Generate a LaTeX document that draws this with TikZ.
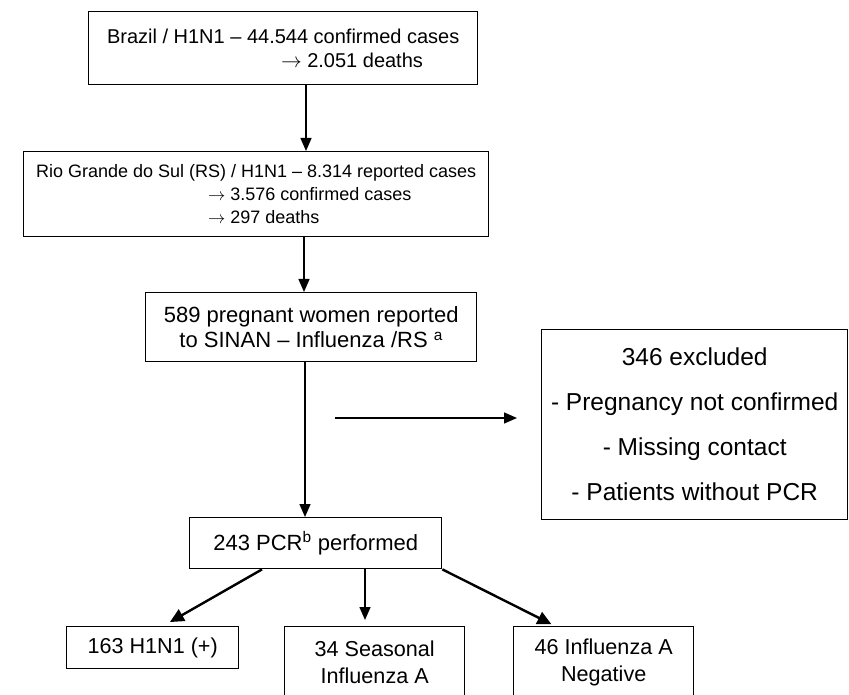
\documentclass[tikz,border=0pt]{standalone}
\usepackage{fontspec}
\setmainfont{Liberation Sans}
\usetikzlibrary{arrows.meta}

\begin{document}
\begin{tikzpicture}[x=1pt,y=-1pt,box/.style={draw, line width=1.4pt, inner sep=0pt, anchor=north west},arr/.style={line width=1.4pt,-{Triangle[length=13pt,width=11pt]}},darr/.style={line width=2.4pt,-{Triangle[length=14pt,width=13pt]}}]

\useasboundingbox (0,0) rectangle (849,695);
\clip (0,0) rectangle (849,695);

%top boxes
\node[box,minimum width=389pt,minimum height=73pt,align=left,font=\fontsize{20}{24}\selectfont] at (88,11) (brazil) {Brazil / H1N1 – 44.544 confirmed cases\\\hspace*{174pt}$\rightarrow$ 2.051 deaths};
\node[box,minimum width=465pt,minimum height=85pt,align=left,font=\fontsize{18}{23}\selectfont] at (23,151) (rio) {Rio Grande do Sul (RS) / H1N1 – 8.314 reported cases\\\hspace*{172pt}$\rightarrow$ 3.576 confirmed cases\\\hspace*{172pt}$\rightarrow$ 297 deaths};
\node[box,minimum width=331pt,minimum height=69pt,align=center,font=\fontsize{22}{25}\selectfont] at (145,292) (sinan) {589 pregnant women reported\\to SINAN – Influenza /RS \textsuperscript{a}};

%excluded
\node[box,minimum width=306pt,minimum height=190pt,align=center,font=\fontsize{24.5}{45}\selectfont] at (541,329) (excl) {346 excluded\\- Pregnancy not confirmed\\- Missing contact\\- Patients without PCR};

%pcr and results
\node[box,minimum width=252pt,minimum height=51pt,font=\fontsize{22}{26}\selectfont] at (189,517) (pcr) {243 PCR\textsuperscript{b} performed};
\node[box,minimum width=172pt,minimum height=42pt,font=\fontsize{21.6}{27}\selectfont] at (66,626) (h1n1) {163 H1N1 (+)};
\node[box,minimum width=180pt,minimum height=71pt,align=center,font=\fontsize{21.6}{27}\selectfont] at (284,626) (seas) {34 Seasonal\\Influenza A};
\node[box,minimum width=180pt,minimum height=71pt,align=center,font=\fontsize{21.6}{27}\selectfont] at (513,626) (neg) {46 Influenza A\\Negative};

%arrows
\draw[arr] (306,0 |- brazil.south) -- (306,0 |- rio.north);
\draw[arr] (304,0 |- rio.south) -- (304,0 |- sinan.north);
\draw[arr] (305,0 |- sinan.south) -- (305,0 |- pcr.north);
\coordinate (ex) at (335,418);
\draw[arr,shorten >=24pt] (ex) -- (ex -| excl.west);
\draw[darr,shorten >=8pt] (262,0 |- pcr.south) -- (163,0 |- h1n1.north);
\draw[arr,shorten >=6pt] (365,0 |- pcr.south) -- (365,0 |- seas.north);
\draw[darr,shorten >=4pt] (pcr.south east) -- (555,0 |- neg.north);
\end{tikzpicture}
\end{document}
